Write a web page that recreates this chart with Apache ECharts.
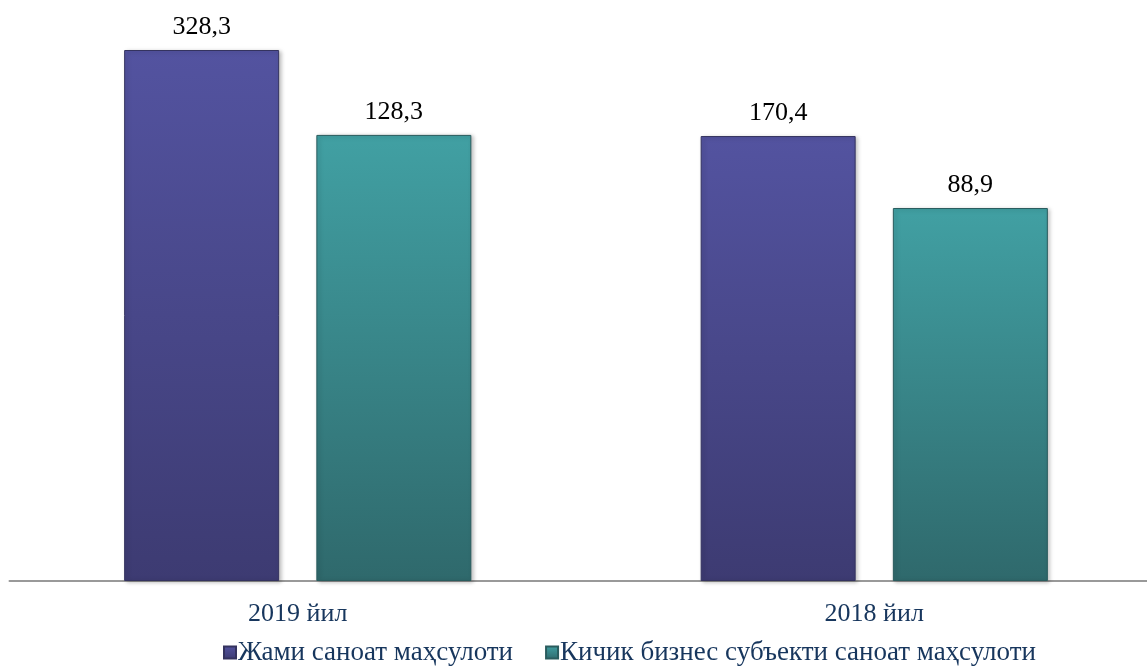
<!DOCTYPE html>
<html>
<head>
<meta charset="UTF-8">
<title></title>
<style type="text/css">
	* { margin: 0; padding: 0; }
	html, body { width: 100%; height: 100%; background: #fff; }
	#main { width: 1147px; height: 670px; }
</style>
</head>
<body>
<div id="main"></div>
<script src="https://cdn.jsdelivr.net/npm/echarts@6/dist/echarts.min.js"></script>
<script type="text/javascript">
	// categories and series
	var categories = ['2019 йил', '2018 йил'];
	var seriesNames = ['Жами саноат маҳсулоти', 'Кичик бизнес субъекти саноат маҳсулоти'];
	// bar heights as drawn in the picture (the picture's bars are not to scale with their labels)
	var totalBars = [328.3, 275.1];
	var smallBars = [275.8, 230.6];
	// labels printed above the bars
	var totalLabels = ['328,3', '170,4'];
	var smallLabels = ['128,3', '88,9'];

	var textColor = '#17365D';
	var font = '"Liberation Serif", "Times New Roman", serif';

	function grad(top, bottom) {
		return new echarts.graphic.LinearGradient(0, 0, 0, 1, [
			{ offset: 0, color: top },
			{ offset: 1, color: bottom }
		]);
	}

	var myChart = echarts.init(document.getElementById('main'));
	var option = {
		animation: false,
		textStyle: { fontFamily: font },
		grid: { left: 9.5, top: 50, width: 1153, bottom: 89, containLabel: false, outerBoundsMode: 'none' },
		legend: {
			left: 218,
			top: 634,
			itemWidth: 12,
			itemHeight: 12,
			itemGap: 32,
			icon: 'rect',
			textStyle: { fontFamily: font, fontSize: 27, color: textColor, padding: [0, 0, 0, -3] },
			data: seriesNames
		},
		xAxis: {
			type: 'category',
			data: categories,
			axisLine: { lineStyle: { color: '#999', width: 2 } },
			axisTick: { show: false },
			axisLabel: { fontFamily: font, fontSize: 26, color: textColor, margin: 20 }
		},
		yAxis: {
			type: 'value',
			min: 0,
			max: 328.3,
			show: false,
			splitLine: { show: false }
		},
		series: [{
			name: seriesNames[0],
			type: 'bar',
			data: totalBars,
			barWidth: 155,
			barGap: '24%',
			itemStyle: {
				color: grad('#5353A0', '#3D3B72'),
				borderColor: '#34335F',
				borderWidth: 1,
				shadowColor: 'rgba(0,0,0,0.25)',
				shadowBlur: 4,
				shadowOffsetX: 2,
				shadowOffsetY: 1
			},
			label: {
				show: true,
				position: 'top',
				distance: 10,
				fontFamily: font,
				fontSize: 26,
				color: '#000',
				formatter: function(p) { return totalLabels[p.dataIndex]; }
			}
		}, {
			name: seriesNames[1],
			type: 'bar',
			data: smallBars,
			barWidth: 155,
			itemStyle: {
				color: grad('#41A0A3', '#2F696C'),
				borderColor: '#2A5C5E',
				borderWidth: 1,
				shadowColor: 'rgba(0,0,0,0.25)',
				shadowBlur: 4,
				shadowOffsetX: 2,
				shadowOffsetY: 1
			},
			label: {
				show: true,
				position: 'top',
				distance: 10,
				fontFamily: font,
				fontSize: 26,
				color: '#000',
				formatter: function(p) { return smallLabels[p.dataIndex]; }
			}
		}]
	};
	myChart.setOption(option);
</script>
</body>
</html>
